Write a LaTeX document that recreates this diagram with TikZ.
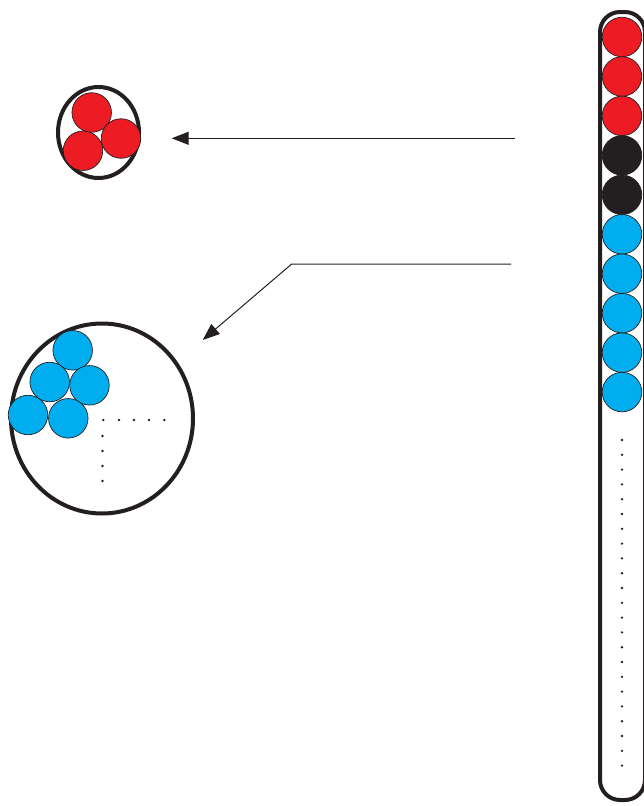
\documentclass[tikz,border=0pt]{standalone}
\usetikzlibrary{arrows.meta,shapes.geometric}
\definecolor{bred}{HTML}{ED1C24}
\definecolor{bblk}{HTML}{231F20}
\definecolor{bblue}{HTML}{00AEEF}
\begin{document}
\begin{tikzpicture}[x=1pt,y=-1pt,
  ball/.style={circle,draw=bblk,line width=0.7pt,minimum size=39.5pt,inner sep=0pt},
  redball/.style={ball,fill=bred},
  blkball/.style={ball,fill=bblk},
  blueball/.style={ball,fill=bblue},
  wall/.style={draw=bblk,line width=4pt},
  ring/.style={wall,shape=ellipse,inner sep=0pt},
  dotm/.style={circle,fill=bblk,inner sep=0pt,minimum size=2.6pt},
  conn/.style={draw=bblk,line width=1pt},
  arr/.style={conn,-{Triangle[length=17pt,width=13pt]}}]
\useasboundingbox (0,0) rectangle (643,806);
\fill[white] (0,0) rectangle (643,806);
% tall container
\draw[wall,rounded corners=20pt] (600,12) rectangle (645,800);
\foreach \i/\s in {0/redball,1/redball,2/redball,3/blkball,4/blkball,5/blueball,6/blueball,7/blueball,8/blueball,9/blueball}{
  \node[\s] (c\i) at (622,{37+39.45*\i}) {};
}
\foreach \k in {0,...,22}{
  \node[dotm] (cd\k) at (622,{440+14.8*\k}) {};
}
% small cluster
\node[ring,minimum width=81pt,minimum height=91pt] (sm) at (98.5,132.5) {};
\node[redball] (r1) at (91.7,112.5) {};
\node[redball] (r2) at (121,138.5) {};
\node[redball] (r3) at (83,150.7) {};
% big cluster
\node[ring,minimum width=182pt,minimum height=190pt] (big) at (102,418.5) {};
\node[blueball] (b1) at (72.7,350.3) {};
\node[blueball] (b2) at (49.7,382) {};
\node[blueball] (b3) at (89.5,385.3) {};
\node[blueball] (b4) at (28,415) {};
\node[blueball] (b5) at (68.3,418.3) {};
\foreach \k/\x in {0/103.3,1/119,2/134,3/149,4/164.3}{
  \node[dotm] (hd\k) at (\x,420) {};
}
\foreach \k/\y in {1/436,2/451,3/466,4/481}{
  \node[dotm] (vd\k) at (102.5,\y) {};
}
% arrows
\coordinate (a1s) at (515,138.3);
\coordinate (a1e) at (171.7,138.3);
\draw[arr] (a1s) -- (a1e);
\coordinate (a2s) at (511,264);
\coordinate (a2m) at (291.7,264);
\coordinate (a2e) at (202.7,340);
\draw[conn,line join=miter,-{Triangle[length=17pt,width=13pt]}] (a2s) -- (a2m) -- (a2e);
\end{tikzpicture}
\end{document}
